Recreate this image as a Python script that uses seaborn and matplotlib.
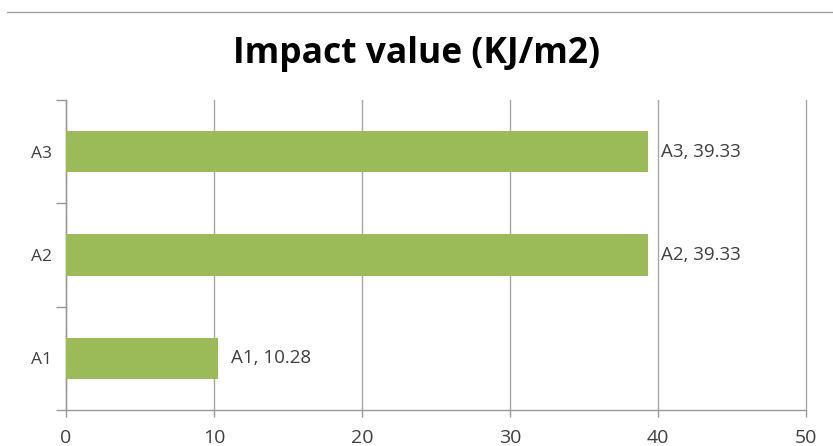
import matplotlib
matplotlib.use("Agg")
import matplotlib.pyplot as plt
from matplotlib.lines import Line2D
import seaborn as sns
import pandas as pd

# Impact values per sample
samples = ["A3", "A2", "A1"]
impact = [39.33, 39.33, 10.28]
x_ticks = [0, 10, 20, 30, 40, 50]

df = pd.DataFrame({"sample": samples, "impact": impact})

sns.set_theme(style="white")
plt.rcParams["font.family"] = ["Open Sans", "DejaVu Sans"]

fig = plt.figure(figsize=(8.33, 4.46), dpi=100)
ax = fig.add_axes([0.0792, 0.0807, 0.8884, 0.6951])

sns.barplot(data=df, x="impact", y="sample", order=samples, orient="h",
            color="#9BBB59", saturation=1, width=0.4, linewidth=0,
            ax=ax, zorder=3)

ax.set_xlim(0, 50)
ax.set_ylim(2.5, -0.5)
ax.set_xticks(x_ticks)
ax.set_xticklabels([str(t) for t in x_ticks], fontsize=14, color="#404040")
ax.set_yticks([0, 1, 2])
ax.set_yticklabels(samples, fontsize=12.5, color="#404040")
ax.set_yticks([-0.5, 0.5, 1.5, 2.5], minor=True)
ax.tick_params(axis="y", which="major", length=0, pad=10)
ax.tick_params(axis="y", which="minor", length=7, color="#999999", width=1, direction="out", left=True)
ax.tick_params(axis="x", which="major", length=5, color="#999999", width=1, direction="out", bottom=True, pad=9)
ax.set_xlabel("")
ax.set_ylabel("")

ax.grid(axis="x", color="#A6A6A6", linewidth=1, zorder=0)
ax.grid(axis="y", visible=False)
for gl in ax.get_xgridlines():
    gl.set_clip_on(False)
for side in ["top", "right"]:
    ax.spines[side].set_visible(False)
for side in ["left", "bottom"]:
    ax.spines[side].set_color("#999999")
    ax.spines[side].set_linewidth(1)

for i, (name, val) in enumerate(zip(samples, impact)):
    ax.annotate(f"{name}, {val:.2f}", xy=(val, i), xytext=(9, 0),
                textcoords="offset points", va="center", ha="left",
                fontsize=13.5, color="#404040")

fig.text(0.5, 0.879, "Impact value (KJ/m2)", ha="center", va="center",
         fontsize=25.5, fontweight="bold", color="#000000")
fig.add_artist(Line2D([0.008, 1.0], [0.973, 0.973], color="#A0A0A0",
                      linewidth=1, transform=fig.transFigure))

fig.savefig("out.png", dpi=100)
